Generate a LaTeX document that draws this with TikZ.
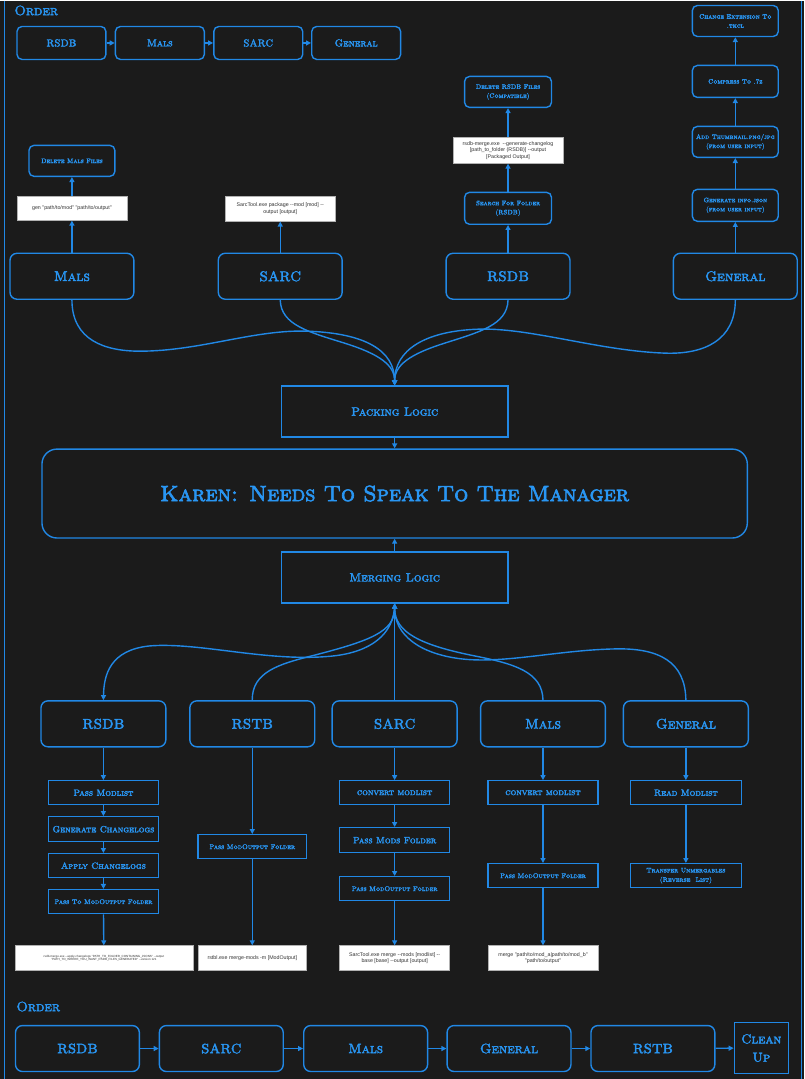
\documentclass[tikz,border=0pt]{standalone}
\usepackage{fontspec}
\usetikzlibrary{arrows.meta}
\newfontfamily\capsfont{lmromancaps10-regular.otf}[FakeBold=3]
\newfontfamily\cmdfont{Liberation Sans}
\newcommand\capsz[1]{\capsfont\fontsize{#1}{\fpeval{#1*1.4}}\selectfont}
\newcommand\cmdsz[1]{\cmdfont\fontsize{#1}{\fpeval{#1*1.25}}\selectfont}
\definecolor{bgdark}{RGB}{27,27,27}
\definecolor{lineblue}{RGB}{33,136,229}
\definecolor{textblue}{RGB}{41,150,243}

\begin{document}
\begin{tikzpicture}[x=1pt,y=-1pt,
  box/.style={draw=lineblue, line width=1.4pt, rounded corners=7pt, text=textblue, align=center, inner sep=1pt},
  sqbox/.style={draw=lineblue, line width=1.4pt, text=textblue, align=center, inner sep=1pt},
  cmd/.style={draw=gray!60, line width=0.6pt, fill=white, text=black!80, align=center, inner sep=1pt, font=\cmdsz{5.3}},
  link/.style={draw=lineblue, line width=1.4pt, -{Triangle[length=5pt,width=5pt]}}]

  % bakgrunn
  \fill[bgdark] (0,0) rectangle (805,1079);
  \draw[lineblue, line width=1pt] (5,0) -- (5,1079);
  \draw[lineblue, line width=1pt] (802,0) -- (802,1079);

  % rekkefolge oppe
  \node[anchor=west, text=textblue, font=\capsz{13.5}] (ordTop) at (11,10) {Order};
  \foreach \n/\cx/\t in {oA/61.5/RSDB, oB/160/Mals, oC/258.5/SARC, oD/356.5/General}
    \node[box, rounded corners=5pt, minimum width=89pt, minimum height=33pt, font=\capsz{10}] (\n) at (\cx,42.5) {\t};
  \foreach \a/\b in {oA/oB, oB/oC, oC/oD}
    \draw[link] (\a) -- (\b);

  % pakking
  \foreach \n/\cx/\t in {pMals/72/Mals, pSarc/280.5/SARC, pRsdb/508.5/RSDB, pGen/736/General}
    \node[box, minimum width=124pt, minimum height=46pt, font=\capsz{14}] (\n) at (\cx,276) {\t};

  \node[box, rounded corners=5pt, minimum width=86pt, minimum height=31pt, font=\capsz{6.5}] (delMals) at (72,160.5) {Delete Mals Files};
  \node[cmd, minimum width=110pt, minimum height=24pt] (genMals) at (72,208) {gen "path/to/mod" "path/to/output"};
  \node[cmd, minimum width=110pt, minimum height=25pt] (pkgSarc) at (280.5,208.5) {SarcTool.exe package -{}-mod [mod] -{}-\\output [output]};
  \node[box, rounded corners=5pt, minimum width=87pt, minimum height=32pt, font=\capsz{6.5}] (findRsdb) at (508.5,208) {Search For Folder\\(RSDB)};
  \node[cmd, minimum width=110pt, minimum height=26pt] (logRsdb) at (508.5,150) {rsdb-merge.exe \ -{}-generate-changelog\\{}[path\_to\_folder (RSDB)] -{}-output\\{}[Packaged Output]};
  \node[box, rounded corners=5pt, minimum width=87pt, minimum height=31pt, font=\capsz{6.5}] (delRsdb) at (508.5,91.5) {Delete RSDB Files\\(Compatible)};
  \node[box, rounded corners=5pt, minimum width=86pt, minimum height=32pt, font=\capsz{6.5}] (mkInfo) at (736,205) {Generate info.json\\(from user input)};
  \node[box, rounded corners=5pt, minimum width=86pt, minimum height=31pt, font=\capsz{6.5}] (addThumb) at (736,141.5) {Add Thumbnail.png/jpg\\(from user input)};
  \node[box, rounded corners=5pt, minimum width=86pt, minimum height=32pt, font=\capsz{6.5}] (zip7z) at (736,81) {Compress To .7z};
  \node[box, rounded corners=5pt, minimum width=86pt, minimum height=31pt, font=\capsz{6.5}] (renTkcl) at (736,20.5) {Change Extension To\\.tkcl};

  \foreach \a/\b in {pMals/genMals, genMals/delMals, pSarc/pkgSarc, pRsdb/findRsdb, findRsdb/logRsdb, logRsdb/delRsdb, pGen/mkInfo, mkInfo/addThumb, addThumb/zip7z, zip7z/renTkcl}
    \draw[link] (\a) -- (\b);

  \node[sqbox, minimum width=227pt, minimum height=51pt, font=\capsz{12}] (pack) at (395,411.5) {Packing Logic};
  \draw[link] (pMals.south) .. controls (72,340) and (105,351) .. (140,351) .. controls (200,351) and (255,329) .. (308,331) .. controls (365,333) and (395,350) .. (pack.north);
  \draw[link] (pSarc.south) .. controls (281,325) and (310,332) .. (345,343) .. controls (380,354) and (395,365) .. (pack.north);
  \draw[link] (pRsdb.south) .. controls (508,325) and (479,332) .. (445,343) .. controls (410,354) and (395,365) .. (pack.north);
  \draw[link] (pGen.south) .. controls (736,340) and (705,354) .. (667,353) .. controls (600,351) and (530,327) .. (478,329) .. controls (425,331) and (395,350) .. (pack.north);

  % midten
  \node[box, rounded corners=15pt, minimum width=706pt, minimum height=89pt, font=\capsz{22}] (karen) at (395,493.5) {Karen: Needs To Speak To The Manager};
  \node[sqbox, minimum width=227pt, minimum height=51pt, font=\capsz{12}] (merge) at (395,577.5) {Merging Logic};
  \draw[link] (pack) -- (karen);
  \draw[link] (merge) -- (karen);

  % sammenslaing
  \foreach \n/\cx/\t in {mRsdb/103.5/RSDB, mRstb/252.5/RSTB, mSarc/395/SARC, mMals/543.5/Mals, mGen/686.5/General}
    \node[box, minimum width=125pt, minimum height=46pt, font=\capsz{14}] (\n) at (\cx,724) {\t};

  \draw[link] (merge.south) .. controls (395,635) and (370,652) .. (334,656) .. controls (270,663) and (200,642) .. (150,646) .. controls (110,650) and (104,675) .. (mRsdb.north);
  \draw[link] (mRstb.north) .. controls (252,672) and (280,664) .. (312,656) .. controls (370,641) and (395,632) .. (merge.south);
  \draw[link] (mSarc) -- (merge);
  \draw[link] (mMals.north) .. controls (543,672) and (515,664) .. (475,656) .. controls (420,645) and (395,632) .. (merge.south);
  \draw[link] (mGen.north) .. controls (686,662) and (660,648) .. (616,649) .. controls (560,650) and (505,664) .. (462,659) .. controls (420,654) and (395,635) .. (merge.south);

  % trinn under
  \node[sqbox, minimum width=110pt, minimum height=24pt, font=\capsz{9}] (rsA) at (103.5,793) {Pass Modlist};
  \node[sqbox, minimum width=110pt, minimum height=25pt, font=\capsz{9}] (rsB) at (103.5,829.5) {Generate Changelogs};
  \node[sqbox, minimum width=110pt, minimum height=24pt, font=\capsz{9}] (rsC) at (103.5,866) {Apply Changelogs};
  \node[sqbox, minimum width=110pt, minimum height=24pt, font=\capsz{6.8}] (rsD) at (103.5,902) {Pass To ModOutput Folder};
  \node[cmd, minimum width=178pt, minimum height=25pt, font=\cmdsz{3}] (rsCmd) at (104,958.5) {rsdb-merge.exe -{}-apply-changelogs "PATH\_TO\_FOLDER\_CONTAINING\_JSONS" -{}-output\\"PATH\_TO\_WHERE\_YOU\_WANT\_RSDB\_FILES\_GENERATED" -{}-version 121};

  \node[sqbox, minimum width=109pt, minimum height=24pt, font=\capsz{6.8}] (rtA) at (252.5,847) {Pass ModOutput Folder};
  \node[cmd, minimum width=109pt, minimum height=25pt] (rtCmd) at (252.5,958.5) {rstbl.exe merge-mods -m [ModOutput]};

  \node[sqbox, minimum width=110pt, minimum height=24pt, font=\capsz{9}] (scA) at (395,793) {convert modlist};
  \node[sqbox, minimum width=110pt, minimum height=25pt, font=\capsz{9}] (scB) at (395,840.5) {Pass Mods Folder};
  \node[sqbox, minimum width=110pt, minimum height=24pt, font=\capsz{6.8}] (scC) at (395,889) {Pass ModOutput Folder};
  \node[cmd, minimum width=110pt, minimum height=25pt] (scCmd) at (395,958.5) {SarcTool.exe merge -{}-mods [modlist] -{}-\\base [base] -{}-output [output]};

  \node[sqbox, minimum width=110pt, minimum height=24pt, font=\capsz{9}] (mlA) at (543.5,793) {convert modlist};
  \node[sqbox, minimum width=110pt, minimum height=24pt, font=\capsz{6.8}] (mlB) at (543.5,876) {Pass ModOutput Folder};
  \node[cmd, minimum width=110pt, minimum height=25pt] (mlCmd) at (543.5,958.5) {merge "path/to/mod\_a|path/to/mod\_b"\\"path/to/output"};

  \node[sqbox, minimum width=111pt, minimum height=24pt, font=\capsz{9}] (gnA) at (686.5,793) {Read Modlist};
  \node[sqbox, minimum width=111pt, minimum height=24pt, font=\capsz{6.7}] (gnB) at (686.5,876) {Transfer Unmergables\\(Reverse \ List)};

  \foreach \a/\b in {mRsdb/rsA, rsA/rsB, rsB/rsC, rsC/rsD, rsD/rsCmd, mRstb/rtA, rtA/rtCmd, mSarc/scA, scA/scB, scB/scC, scC/scCmd, mMals/mlA, mlA/mlB, mlB/mlCmd, mGen/gnA, gnA/gnB}
    \draw[link] (\a) -- (\b);

  % rekkefolge nede
  \node[anchor=west, text=textblue, font=\capsz{13.5}] (ordBot) at (13,1007) {Order};
  \foreach \n/\cx/\t in {qA/77.5/RSDB, qB/221.5/SARC, qC/366/Mals, qD/509.5/General, qE/653.5/RSTB}
    \node[box, minimum width=124pt, minimum height=46pt, font=\capsz{13.5}] (\n) at (\cx,1049) {\t};
  \node[sqbox, minimum width=54pt, minimum height=51pt, font=\capsz{13}] (qF) at (762,1048.5) {Clean\\Up};
  \foreach \a/\b in {qA/qB, qB/qC, qC/qD, qD/qE, qE/qF}
    \draw[link] (\a) -- (\b);
\end{tikzpicture}
\end{document}
